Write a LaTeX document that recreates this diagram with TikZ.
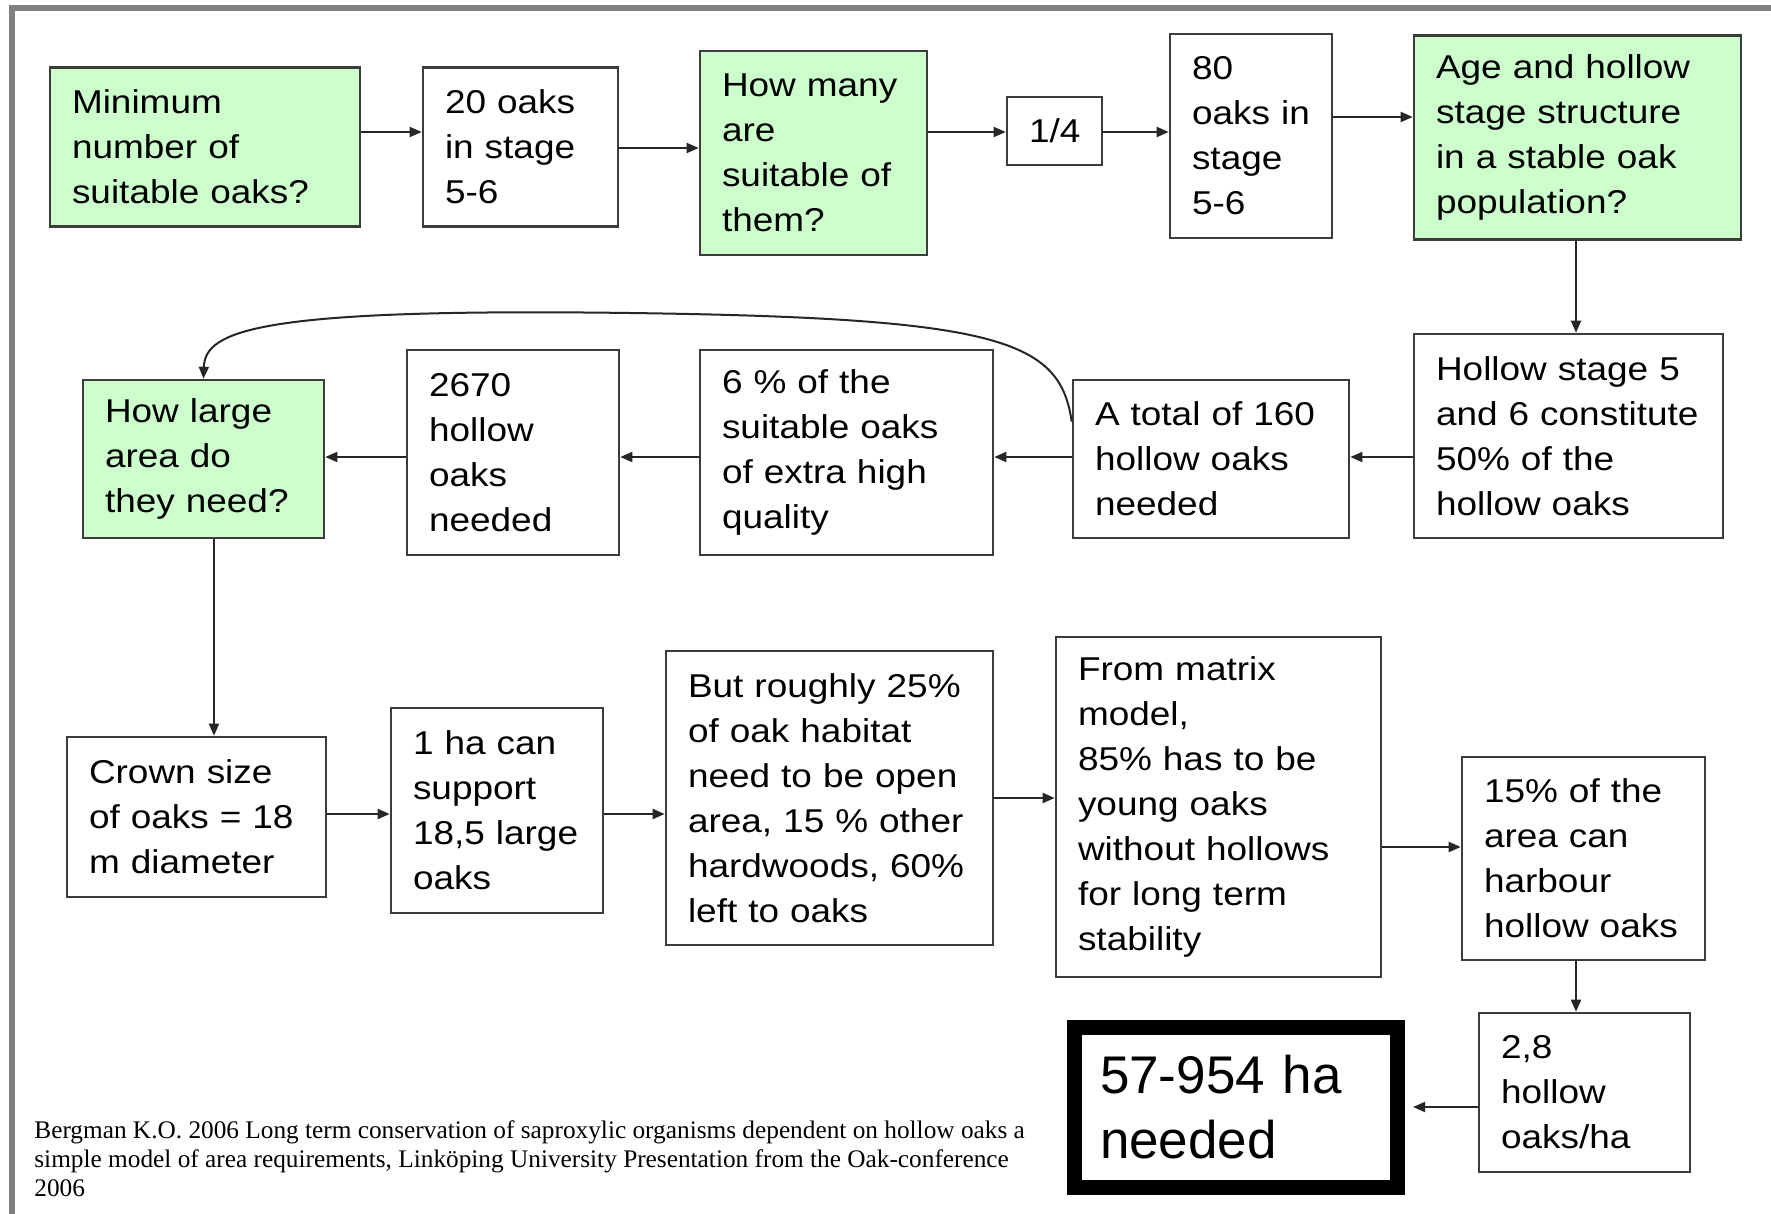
\documentclass[tikz,border=0pt]{standalone}
\usepackage{fontspec}
\usepackage{tikz}
\usetikzlibrary{arrows.meta}

\newfontfamily\boxfont{Liberation Sans}[FakeStretch=1.12]
\newfontfamily\bigfont{Liberation Sans}
\newfontfamily\citefont{Liberation Serif}

\definecolor{qgreen}{RGB}{204,255,204}
\definecolor{edgegray}{RGB}{60,60,60}
\definecolor{framegray}{RGB}{128,128,128}

\tikzset{
  box/.style={draw=edgegray,line width=1.3pt,fill=white,align=left,inner xsep=11pt,inner ysep=0pt,
    font=\boxfont\fontsize{16.5}{22.5}\selectfont},
  qbox/.style={box,fill=qgreen},
  arr/.style={draw=black!85,line width=1pt,-{Triangle[length=6pt,width=5pt]}},
}

\begin{document}
\begin{tikzpicture}[x=0.5pt,y=-0.5pt]

        \useasboundingbox (0,0) rectangle (1771,1214);
        \draw[framegray,line width=3pt] (12,1214) -- (12,8.5) -- (1771,8.5);

        % first row
        \node[qbox,text width=133pt,minimum height=79.5pt] (min) at (205,147) {Minimum\\number of\\suitable oaks?};
        \node[box,text width=75.5pt,minimum height=79.5pt] (twenty) at (520.5,147) {20 oaks\\in stage\\5-6};
        \node[qbox,text width=91.5pt,minimum height=102pt] (howmany) at (813.5,153) {How many\\are\\suitable of\\them?};
        \node[box,text width=25.5pt,minimum height=34pt,align=center] (quarter) at (1054.5,131) {1/4};
        \node[box,text width=59pt,minimum height=102pt] (eighty) at (1251,136) {80\\oaks in\\stage\\5-6};
        \node[qbox,text width=141.5pt,minimum height=102pt] (agestruct) at (1577.5,137.5) {Age and hollow\\stage structure\\in a stable oak\\population?};

        % second row
        \node[box,text width=132.5pt,minimum height=102pt] (halfhollow) at (1568.5,436) {Hollow stage 5\\and 6 constitute\\50\% of the\\hollow oaks};
        \node[box,text width=116pt,minimum height=79pt] (total) at (1211,459) {A total of 160\\hollow oaks\\needed};
        \node[box,text width=124.5pt,minimum height=102.5pt] (sixpct) at (846.5,452.5) {6 \% of the\\suitable oaks\\of extra high\\quality};
        \node[box,text width=84pt,minimum height=102.5pt] (twothousand) at (513,452.5) {2670\\hollow\\oaks\\needed};
        \node[qbox,text width=98.5pt,minimum height=79pt] (howlarge) at (203.5,459) {How large\\area do\\they need?};

        % third row
        \node[box,text width=107.5pt,minimum height=80pt] (crown) at (196.5,817) {Crown size\\of oaks = 18\\m diameter};
        \node[box,text width=84pt,minimum height=102.5pt] (onehectare) at (497,810.5) {1 ha can\\support\\18,5 large\\oaks};
        \node[box,text width=141.5pt,minimum height=147pt] (roughly) at (829.5,798) {But roughly 25\%\\of oak habitat\\need to be open\\area, 15 \% other\\hardwoods, 60\%\\left to oaks};
        \node[box,text width=140.5pt,minimum height=170pt] (matrix) at (1218.5,807) {From matrix\\model,\\85\% has to be\\young oaks\\without hollows\\for long term\\stability};
        \node[box,text width=99.5pt,minimum height=101.5pt] (harbour) at (1583.5,858.5) {15\% of the\\area can\\harbour\\hollow oaks};

        % last row
        \node[box,text width=83.5pt,minimum height=79.5pt] (perha) at (1584.5,1092.5) {2,8\\hollow\\oaks/ha};
        \node[draw=black,line width=7.5pt,fill=white,align=left,text width=136pt,inner xsep=12.75pt,inner ysep=0pt,minimum height=80pt,
          font=\bigfont\fontsize{26.5}{32.5}\selectfont] (result) at (1236,1107.5) {57-954 ha\\needed};

        \node[anchor=north west,inner sep=0pt,align=left,font=\citefont\fontsize{12.65}{14.6}\selectfont] (cite) at (34,1120)
          {Bergman K.O. 2006 Long term conservation of saproxylic organisms dependent on hollow oaks a\\
           simple model of area requirements, Linköping University Presentation from the Oak-conference\\
           2006};

        % heights and columns of the arrows
        \coordinate (ra) at (0,132);
        \coordinate (rb) at (0,148);
        \coordinate (rc) at (0,117);
        \coordinate (rd) at (0,457);
        \coordinate (re) at (0,814);
        \coordinate (rf) at (0,798);
        \coordinate (rg) at (0,847);
        \coordinate (rh) at (0,1107);
        \coordinate (ca) at (1576,0);
        \coordinate (cb) at (214,0);

        \draw[arr] (min.east |- ra) -- (twenty.west |- ra);
        \draw[arr] (twenty.east |- rb) -- (howmany.west |- rb);
        \draw[arr] (howmany.east |- ra) -- (quarter.west |- ra);
        \draw[arr] (quarter.east |- ra) -- (eighty.west |- ra);
        \draw[arr] (eighty.east |- rc) -- (agestruct.west |- rc);
        \draw[arr] (agestruct.south -| ca) -- (halfhollow.north -| ca);

        \draw[arr] (halfhollow.west |- rd) -- (total.east |- rd);
        \draw[arr] (total.west |- rd) -- (sixpct.east |- rd);
        \draw[arr] (sixpct.west |- rd) -- (twothousand.east |- rd);
        \draw[arr] (twothousand.west |- rd) -- (howlarge.east |- rd);
        \draw[arr] (total.165) .. controls (1060,340) and (1000,318) .. (630,313)
          .. controls (260,308) and (205,330) .. (howlarge.north);
        \draw[arr] (howlarge.south -| cb) -- (crown.north -| cb);

        \draw[arr] (crown.east |- re) -- (onehectare.west |- re);
        \draw[arr] (onehectare.east |- re) -- (roughly.west |- re);
        \draw[arr] (roughly.east |- rf) -- (matrix.west |- rf);
        \draw[arr] (matrix.east |- rg) -- (harbour.west |- rg);
        \draw[arr] (harbour.south -| ca) -- (perha.north -| ca);
        \draw[arr,shorten >=4pt] (perha.west |- rh) -- (result.east |- rh);

\end{tikzpicture}
\end{document}
